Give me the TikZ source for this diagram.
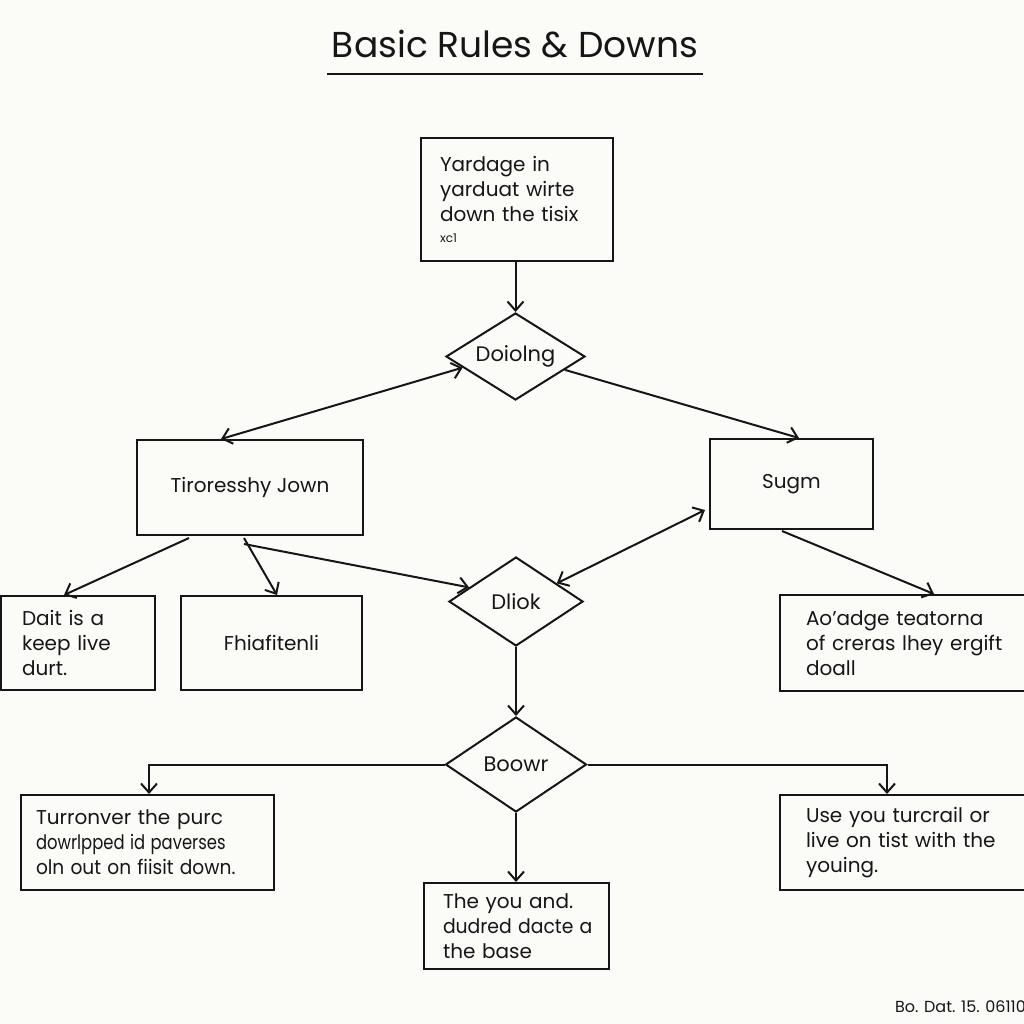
\documentclass[tikz,border=0pt]{standalone}
\usepackage{fontspec}
\setmainfont{Poppins}
\usetikzlibrary{shapes.geometric,arrows.meta,calc}
\definecolor{bg}{HTML}{FBFBF7}
\definecolor{ink}{HTML}{161616}
\tikzset{
  box/.style={draw=ink, line width=1pt, rectangle, inner sep=0pt, text=ink,
    font=\fontsize{10}{12.5}\selectfont},
  dia/.style={draw=ink, line width=1pt, diamond, inner sep=-8pt, text=ink,
    font=\fontsize{10.5}{12.5}\selectfont},
  arr/.style={draw=ink, line width=1pt, -{Straight Barb[length=4.5pt,width=8pt]}},
  darr/.style={draw=ink, line width=1pt, {Straight Barb[length=4.5pt,width=8pt]}-{Straight Barb[length=4.5pt,width=8pt]}}
}
\begin{document}
\begin{tikzpicture}[x=0.5pt,y=-0.5pt]
\fill[bg] (0,0) rectangle (1024,1024);
\useasboundingbox (0,0) rectangle (1024,1024);

% title
\node[text=ink, font=\fontsize{18}{22}\selectfont] (title) at (515,44) {Basic Rules \& Downs};
\coordinate (ulA) at (327,74);
\coordinate (ulB) at (703,74);
\draw[ink, line width=1pt] (ulA) -- (ulB);

% boxes
\node[box, minimum width=96pt, minimum height=61.5pt, text width=77pt, align=left] (b1) at (517,199.5)
  {\mbox{Yardage in}\\\mbox{yarduat wirte}\\\mbox{down the tisix}\\[-2pt]{\fontsize{6}{7}\selectfont xc1}};
\node[box, minimum width=113pt, minimum height=47.5pt] (tiro) at (250,487.5) {Tiroresshy Jown};
\node[box, minimum width=81.5pt, minimum height=45pt] (sugm) at (791.5,484) {Sugm};
\node[box, minimum width=77pt, minimum height=47pt, text width=56pt, align=left] (dait) at (78,643)
  {\mbox{Dait is a}\\\mbox{keep live}\\\mbox{durt.}};
\node[box, minimum width=90.5pt, minimum height=47pt] (fhia) at (271.5,643) {Fhiafitenli};
\node[box, minimum width=125pt, minimum height=48pt, text width=99pt, align=left] (aoad) at (905,643)
  {\mbox{Ao'adge teatorna}\\\mbox{of creras lhey ergift}\\\mbox{doall}};
\node[box, minimum width=126.5pt, minimum height=47.5pt, text width=111.5pt, align=left] (turr) at (147.5,842.5)
  {\mbox{Turronver the purc}\\\scalebox{0.82}[1]{dowrlpped id paverses}\\\scalebox{0.93}[1]{oln out on fiisit down.}};
\node[box, minimum width=125pt, minimum height=47.5pt, text width=99pt, align=left] (usey) at (905,842.5)
  {\mbox{Use you turcrail or}\\\mbox{live on tist with the}\\\mbox{youing.}};
\node[box, minimum width=92.5pt, minimum height=43pt, text width=73.5pt, align=left] (they) at (516.5,926)
  {\mbox{The you and.}\\\scalebox{0.94}[1]{dudred dacte a}\\\mbox{the base}};

% diamonds
\node[dia, minimum width=69.5pt, minimum height=43.5pt] (d1) at (515.5,356.5) {Doiolng};
\node[dia, minimum width=67pt, minimum height=44.5pt] (d2) at (516,601.5) {Dliok};
\node[dia, minimum width=70.5pt, minimum height=47.5pt] (d3) at (516,764.5) {Boowr};

% footer
\node[anchor=west, text=ink, font=\fontsize{8}{9}\selectfont] (foot) at (888,1007) {Bo. Dat. 15. 06110};

% connectors
\draw[arr] (b1.south -| d1.north) -- (d1.north);
\draw[darr] ($(tiro.north west)+(85,0)$) -- ($(d1.west)!0.25!(d1.south)$);
\draw[arr] ($(d1.east)!0.3!(d1.south)$) -- ($(sugm.north west)+(90,0)$);
\draw[darr] ($(sugm.south west)+(-4,-20)$) -- ($(d2.north)!0.6!(d2.east)$);
\draw[arr] ($(tiro.south west)+(53,2)$) -- ($(dait.north west)+(64,0)$);
\draw[arr] ($(tiro.south west)+(108,2)$) -- ($(fhia.north west)+(97,0)$);
\draw[arr] ($(tiro.south west)+(108,8)$) -- ($(d2.west)!0.31!(d2.north)$);
\draw[arr] ($(sugm.south west)+(73,1)$) -- ($(aoad.north west)+(155,0)$);
\draw[arr] (d2.south) -- (d3.north);
\draw[arr] (d3.west) -| ($(turr.north west)+(129,0)$);
\draw[arr] (d3.east) -| ($(usey.north west)+(108,0)$);
\draw[arr] (d3.south) -- (d3.south |- they.north);
\end{tikzpicture}
\end{document}
